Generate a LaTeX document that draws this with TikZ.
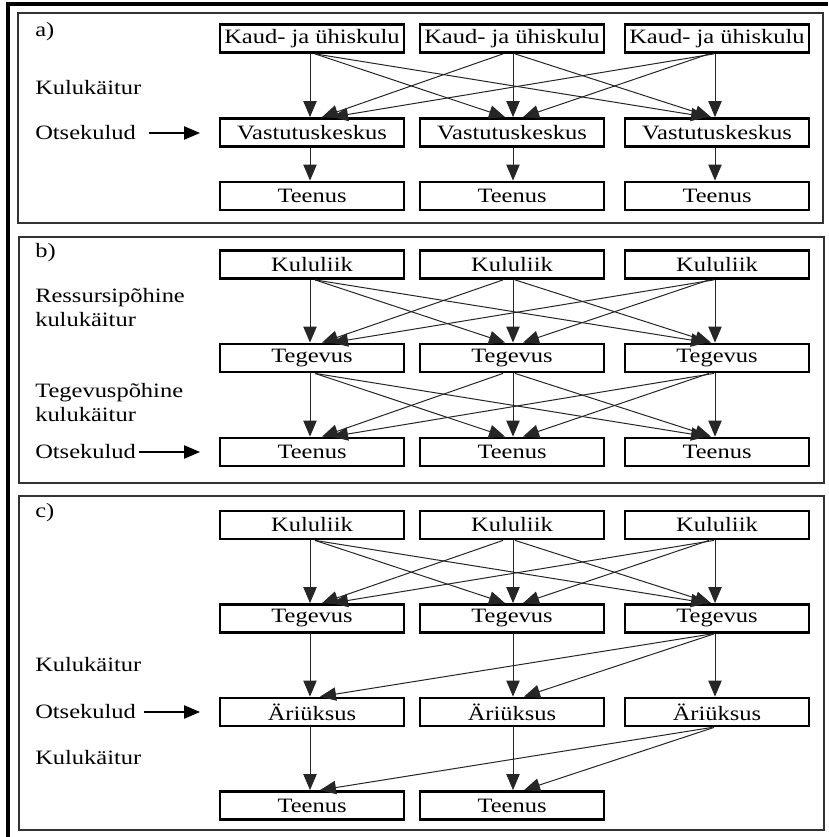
\documentclass[tikz,border=0pt]{standalone}
\usepackage{fontspec}
\setmainfont{Liberation Serif}[FakeStretch=1.2]
\usetikzlibrary{arrows.meta,calc}

% arrow from the bottom of one box to the top of another, with small horizontal shifts
\newcommand\arrowlink[4]{\draw[conn] ($(#1.south)+(#2,0)$) -- ($(#3.north)+(#4,0)$);}
% every box of one row feeds every box of the next row
\newcommand\fullmesh[2]{%
  \arrowlink{#11}{-2}{#21}{-2}
  \arrowlink{#11}{3}{#22}{-7}
  \arrowlink{#11}{3}{#23}{-10}
  \arrowlink{#12}{-9}{#21}{10}
  \arrowlink{#12}{1}{#22}{1}
  \arrowlink{#12}{3}{#23}{-6}
  \arrowlink{#13}{-3}{#21}{20}
  \arrowlink{#13}{-8}{#22}{11}
  \arrowlink{#13}{-2}{#23}{-2}}

\begin{document}
\begin{tikzpicture}[x=0.75pt,y=-0.75pt,
  font=\fontsize{15.3}{18}\selectfont,
  box/.style={draw,line width=2.1pt,minimum width=138pt,minimum height=21pt,inner sep=0pt},
  lbl/.style={anchor=west,inner sep=0pt},
  panel/.style={draw=black!80,line width=0.8pt},
  conn/.style={draw=black!85,line width=0.75pt,-{Triangle[length=12pt,width=10pt]}},
  side/.style={draw=black,line width=0.9pt,-{Triangle[length=12pt,width=10pt]}}]
\useasboundingbox (0,0) rectangle (828,837);

% outer frame
\draw[line width=2.8pt] (8,837) -- (8,4) -- (828,4);

% panel frames
\draw[panel] (18,13) rectangle (823,223);
\draw[panel] (19,237) rectangle (824,483);
\draw[panel] (19,496) rectangle (824,830);

% ---------------- a)
\node[lbl] (la) at (35,32) {a)};
\node[lbl] (la1) at (35,88) {Kulukäitur};
\node[lbl] (lao) at (35,133) {Otsekulud};

\node[box] (aK1) at (312,38.5) {Kaud- ja ühiskulu};
\node[box] (aK2) at (512,38.5) {Kaud- ja ühiskulu};
\node[box] (aK3) at (717,38.5) {Kaud- ja ühiskulu};
\node[box] (aV1) at (312,132.5) {Vastutuskeskus};
\node[box] (aV2) at (512,132.5) {Vastutuskeskus};
\node[box] (aV3) at (717,132.5) {Vastutuskeskus};
\node[box] (aT1) at (312,196) {Teenus};
\node[box] (aT2) at (512,196) {Teenus};
\node[box] (aT3) at (717,196) {Teenus};

\fullmesh{aK}{aV}
\arrowlink{aV1}{-2}{aT1}{-2}
\arrowlink{aV2}{1}{aT2}{1}
\arrowlink{aV3}{-2}{aT3}{-2}
\coordinate (aend) at (200,133);
\draw[side] ($(lao.east)+(13,0)$) -- (aend);

% ---------------- b)
\node[lbl] (lb) at (35,253) {b)};
\node[lbl] (lb1) at (35,298) {Ressursipõhine};
\node[lbl] (lb2) at (35,320) {kulukäitur};
\node[lbl] (lb3) at (35,393) {Tegevuspõhine};
\node[lbl] (lb4) at (35,415) {kulukäitur};
\node[lbl] (lbo) at (35,452) {Otsekulud};

\node[box] (bK1) at (312,264.5) {Kululiik};
\node[box] (bK2) at (512,264.5) {Kululiik};
\node[box] (bK3) at (717,264.5) {Kululiik};
\node[box] (bG1) at (312,358) {Tegevus};
\node[box] (bG2) at (512,358) {Tegevus};
\node[box] (bG3) at (717,358) {Tegevus};
\node[box] (bT1) at (312,452) {Teenus};
\node[box] (bT2) at (512,452) {Teenus};
\node[box] (bT3) at (717,452) {Teenus};

\fullmesh{bK}{bG}
\fullmesh{bG}{bT}
\coordinate (bend) at (200,452);
\draw[side] ($(lbo.east)+(3,0)$) -- (bend);

% ---------------- c)
\node[lbl] (lc) at (35,513) {c)};
\node[lbl] (lc1) at (35,665) {Kulukäitur};
\node[lbl] (lco) at (35,712) {Otsekulud};
\node[lbl] (lc2) at (35,758) {Kulukäitur};

\node[box] (cK1) at (312,525) {Kululiik};
\node[box] (cK2) at (512,525) {Kululiik};
\node[box] (cK3) at (717,525) {Kululiik};
\node[box] (cG1) at (312,618.5) {Tegevus};
\node[box] (cG2) at (512,618.5) {Tegevus};
\node[box] (cG3) at (717,618.5) {Tegevus};
\node[box] (cA1) at (312,712) {Äriüksus};
\node[box] (cA2) at (512,712) {Äriüksus};
\node[box] (cA3) at (717,712) {Äriüksus};
\node[box] (cT1) at (312,805.5) {Teenus};
\node[box] (cT2) at (512,805.5) {Teenus};

\fullmesh{cK}{cG}
\arrowlink{cG1}{-2}{cA1}{-2}
\arrowlink{cG2}{1}{cA2}{1}
\arrowlink{cG3}{-2}{cA3}{-2}
\arrowlink{cG3}{-5}{cA1}{8}
\arrowlink{cG3}{-3}{cA2}{12}
\arrowlink{cA1}{-2}{cT1}{-2}
\arrowlink{cA2}{1}{cT2}{1}
\arrowlink{cA3}{-5}{cT1}{8}
\arrowlink{cA3}{-3}{cT2}{12}
\coordinate (cend) at (200,712);
\draw[side] ($(lco.east)+(8,0)$) -- (cend);
\end{tikzpicture}
\end{document}
